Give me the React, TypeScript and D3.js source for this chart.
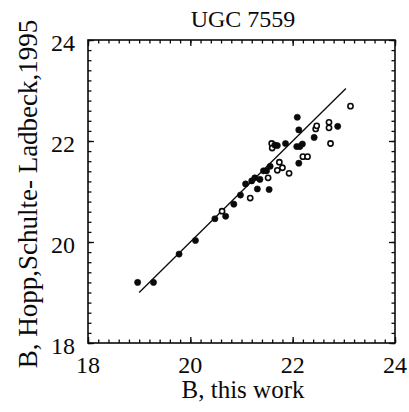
import * as d3 from "d3";
import { useEffect, useRef } from "react";

// B magnitudes, this work
const bThisWork = [
  18.97, 19.28, 19.78, 20.1, 20.48, 20.62, 20.69, 20.85, 20.98, 21.08, 21.17,
  21.2, 21.26, 21.31, 21.36, 21.43, 21.49, 21.52, 21.54, 21.56, 21.59, 21.6,
  21.65, 21.7, 21.7, 21.74, 21.8, 21.86, 21.93, 22.09, 22.12, 22.08, 22.14,
  22.19, 22.12, 22.2, 22.29, 22.42, 22.45, 22.47, 22.71, 22.71, 22.74, 22.88,
  23.13,
];
// B magnitudes, Hopp & Schulte-Ladbeck 1995
const bHopp = [
  19.2, 19.2, 19.76, 20.03, 20.46, 20.61, 20.51, 20.75, 20.93, 21.15, 20.87,
  21.21, 21.27, 21.05, 21.24, 21.41, 21.41, 21.27, 21.04, 21.5, 21.95, 21.86,
  21.92, 21.91, 21.42, 21.58, 21.47, 21.95, 21.36, 22.47, 22.22, 21.89, 21.89,
  21.94, 21.56, 21.69, 21.69, 22.07, 22.24, 22.3, 22.37, 22.26, 21.95, 22.29,
  22.69,
];
// 1 = filled dot, 0 = open circle
const filled = [
  1, 1, 1, 1, 1, 0, 1, 1, 1, 1, 0, 1, 1, 1, 1, 1, 1, 0, 1, 1, 0, 0, 1, 1, 0, 0,
  0, 1, 0, 1, 1, 1, 1, 1, 1, 0, 0, 1, 0, 0, 0, 0, 0, 1, 0,
];
const lineRange = [19.0, 23.04];
const majorTicks = [18, 20, 22, 24];

export default function App() {
  const ref = useRef<SVGSVGElement>(null);
  const width = 409;
  const height = 412;
  const left = 88,
    right = 395,
    top = 40,
    bottom = 343;

  useEffect(() => {
    const svg = d3.select(ref.current);
    svg.selectAll("*").remove();

    const x = d3.scaleLinear().domain([18, 24]).range([left, right]);
    const y = d3.scaleLinear().domain([18, 24]).range([bottom, top]);
    const minor = d3.range(18, 24.001, 0.2);
    const font = "Liberation Serif, DejaVu Serif, serif";
    const ink = "#0a0a0a";

    svg.append("rect").attr("width", width).attr("height", height).attr("fill", "#fff");

    // ticks, all pointing inward on four sides
    const sides: [any, string][] = [
      [d3.axisBottom(x), `translate(0,${bottom})`],
      [d3.axisTop(x), `translate(0,${top})`],
      [d3.axisLeft(y), `translate(${left},0)`],
      [d3.axisRight(y), `translate(${right},0)`],
    ];
    sides.forEach(([ax, tr]) => {
      const gm = svg.append("g").attr("transform", tr);
      gm.call(ax.tickValues(minor).tickSize(-3.5).tickFormat(() => ""));
      const gM = svg.append("g").attr("transform", tr);
      gM.call(ax.tickValues(majorTicks).tickSize(-6).tickFormat(() => ""));
      [gm, gM].forEach((g) => {
        g.select(".domain").remove();
        g.selectAll("line").attr("stroke", ink).attr("stroke-width", 1.3);
      });
    });

    svg
      .append("rect")
      .attr("x", left)
      .attr("y", top)
      .attr("width", right - left)
      .attr("height", bottom - top)
      .attr("fill", "none")
      .attr("stroke", ink)
      .attr("stroke-width", 1.6);

    // tick labels
    svg
      .selectAll(".xl")
      .data(majorTicks)
      .join("text")
      .attr("x", (d) => x(d))
      .attr("y", 373)
      .attr("text-anchor", "middle")
      .attr("font-family", font)
      .attr("font-size", 24)
      .attr("fill", ink)
      .text((d) => d);
    svg
      .selectAll(".yl")
      .data(majorTicks)
      .join("text")
      .attr("x", 75)
      .attr("y", (d) => y(d) + 11)
      .attr("text-anchor", "end")
      .attr("font-family", font)
      .attr("font-size", 24)
      .attr("fill", ink)
      .text((d) => d);

    // titles
    svg
      .append("text")
      .attr("x", 243)
      .attr("y", 27)
      .attr("text-anchor", "middle")
      .attr("font-family", font)
      .attr("font-size", 24)
      .attr("fill", ink)
      .text("UGC 7559");
    svg
      .append("text")
      .attr("x", 243)
      .attr("y", 398)
      .attr("text-anchor", "middle")
      .attr("font-family", font)
      .attr("font-size", 25)
      .attr("fill", ink)
      .text("B, this work");
    svg
      .append("text")
      .attr("transform", "translate(37,194) rotate(-90)")
      .attr("text-anchor", "middle")
      .attr("font-family", font)
      .attr("font-size", 27)
      .attr("fill", ink)
      .text("B, Hopp,Schulte- Ladbeck,1995");

    // 1:1 line
    svg
      .append("line")
      .attr("x1", x(lineRange[0]))
      .attr("y1", y(lineRange[0]))
      .attr("x2", x(lineRange[1]))
      .attr("y2", y(lineRange[1]))
      .attr("stroke", ink)
      .attr("stroke-width", 1.3);

    // points
    const pts = bThisWork.map((b, i) => ({ bx: b, by: bHopp[i], f: filled[i] }));
    svg
      .selectAll(".pt")
      .data(pts)
      .join("circle")
      .attr("cx", (d) => x(d.bx))
      .attr("cy", (d) => y(d.by))
      .attr("r", (d) => (d.f ? 3.1 : 2.6))
      .attr("fill", (d) => (d.f ? ink : "#fff"))
      .attr("stroke", ink)
      .attr("stroke-width", (d) => (d.f ? 0.6 : 1.6));
  }, []);

  return (
    <svg
      ref={ref}
      width={width}
      height={height}
      style={{ position: "absolute", left: 0, top: 0 }}
    />
  );
}
